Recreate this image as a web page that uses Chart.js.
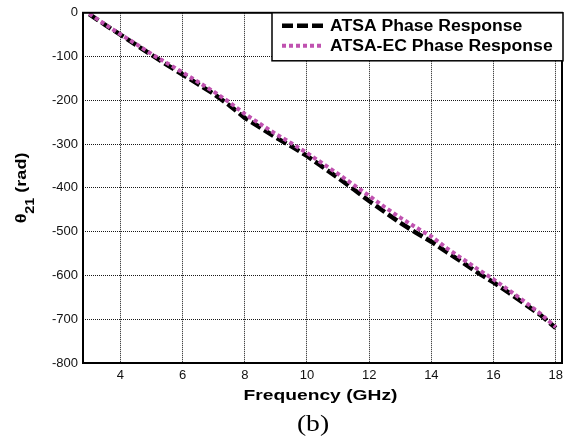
<!DOCTYPE html>
<html>
<head>
<meta charset="utf-8">
<script src="https://cdn.jsdelivr.net/npm/chart.js@4.4.1/dist/chart.umd.min.js"></script>
<style>
html,body{margin:0;padding:0;background:#fff;}
#wrap{width:570px;height:443px;}
</style>
</head>
<body>
<div id="wrap"><canvas id="c" width="570" height="443"></canvas></div>
<script>
// ---- data ----
const freq   = [3,3.5,4,4.5,5,5.5,6,6.5,7,7.5,8,8.5,9,9.5,10,10.5,11,11.5,12,12.5,13,13.5,14,14.5,15,15.5,16,16.5,17,17.5,18];
const atsa   = [-3,-27,-50,-73,-96,-119,-141,-163,-185,-211,-240,-262,-285,-305,-327,-352,-377,-403,-430,-455,-480,-502,-523,-547,-570,-594,-616,-640,-665,-690,-720];
const atsaEc = [-2,-26,-49,-71,-94,-115,-136,-158,-180,-204,-231,-254,-277,-298,-320,-344,-368,-393,-418,-444,-468,-490,-511,-538,-562,-586,-609,-634,-660,-687,-718];
const xTicks = [4,6,8,10,12,14,16,18];
const yTicks = [0,-100,-200,-300,-400,-500,-600,-700,-800];
const seriesNames = ['ATSA Phase Response','ATSA-EC Phase Response'];
const xTitle = 'Frequency (GHz)';
const panelLabel = '(b)';

const BLACK = '#000000';
const PINK = '#c052b0';

function stretchText(ctx, text, x, y, font, sx, align){
  ctx.save();
  ctx.font = font;
  const w = ctx.measureText(text).width * sx;
  let x0 = x;
  if (align === 'center') x0 = x - w/2;
  else if (align === 'right') x0 = x - w;
  ctx.translate(x0, y);
  ctx.scale(sx, 1);
  ctx.textAlign = 'left';
  ctx.fillText(text, 0, 0);
  ctx.restore();
}

const decor = {
  id: 'decor',
  afterDraw(chart){
    const ctx = chart.ctx, a = chart.chartArea;
    ctx.save();
    // frame
    ctx.strokeStyle = '#000';
    ctx.lineWidth = 2;
    ctx.setLineDash([]);
    ctx.strokeRect(a.left, a.top, a.right - a.left, a.bottom - a.top);

    // legend
    const lx = 272, ly = a.top, lw = a.right + 1 - 272, lh = 48;
    ctx.fillStyle = '#fff';
    ctx.fillRect(lx, ly, lw, lh);
    ctx.lineWidth = 1.5;
    ctx.strokeStyle = '#000';
    ctx.strokeRect(lx, ly, lw, lh);
    const ds = chart.data.datasets;
    const rows = [ly + 13, ly + 33];
    ds.forEach((d, i) => {
      ctx.save();
      ctx.strokeStyle = d.borderColor;
      ctx.lineWidth = d.borderWidth;
      ctx.lineCap = 'butt';
      ctx.setLineDash(d.borderDash);
      ctx.beginPath();
      ctx.moveTo(282, rows[i]);
      ctx.lineTo(324, rows[i]);
      ctx.stroke();
      ctx.restore();
      ctx.fillStyle = '#000';
      ctx.textBaseline = 'middle';
      stretchText(ctx, d.label, 330, rows[i] + 1, 'bold 16px "Liberation Sans", Arial, sans-serif', 1.1, 'left');
    });

    // x title
    ctx.fillStyle = '#000';
    ctx.textBaseline = 'middle';
    stretchText(ctx, xTitle, (a.left + a.right) / 2 - 2, 396, 'bold 15.5px "Liberation Sans", Arial, sans-serif', 1.24, 'center');
    // panel label
    stretchText(ctx, panelLabel, 313, 425, '23px "Liberation Serif", "Times New Roman", serif', 1.2, 'center');

    // y title: theta_21 (rad)
    ctx.save();
    ctx.translate(22, 188);
    ctx.rotate(-Math.PI / 2);
    const sx = 1.2;
    const mainFont = 'bold 15px "Liberation Sans", Arial, sans-serif';
    const subFont = 'bold 12px "Liberation Sans", Arial, sans-serif';
    ctx.font = mainFont;
    const wT = ctx.measureText('\u03B8').width;
    const wR = ctx.measureText(' (rad)').width;
    ctx.font = subFont;
    const wS = ctx.measureText('21').width;
    const W = (wT + wS + wR) * sx;
    ctx.scale(sx, 1);
    let cx = -W / 2 / sx;
    ctx.textBaseline = 'middle';
    ctx.textAlign = 'left';
    ctx.font = mainFont;
    ctx.fillText('\u03B8', cx, 0);
    cx += wT;
    ctx.font = subFont;
    ctx.fillText('21', cx, 9);
    cx += wS;
    ctx.font = mainFont;
    ctx.fillText(' (rad)', cx, 0);
    ctx.restore();

    ctx.restore();
  }
};

const tickFont = {family: '"Liberation Sans", Arial, sans-serif', size: 13};

new Chart(document.getElementById('c'), {
  type: 'line',
  data: {
    datasets: [
      {
        label: seriesNames[0],
        data: freq.map((f, i) => ({x: f, y: atsa[i]})),
        borderColor: BLACK,
        borderWidth: 4.5,
        borderDash: [11, 4],
        borderCapStyle: 'butt',
        pointRadius: 0,
        tension: 0,
        fill: false,
        order: 1
      },
      {
        label: seriesNames[1],
        data: freq.map((f, i) => ({x: f, y: atsaEc[i]})),
        borderColor: PINK,
        borderWidth: 4,
        borderDash: [4, 3],
        borderCapStyle: 'butt',
        pointRadius: 0,
        tension: 0,
        fill: false,
        order: 0
      }
    ]
  },
  options: {
    responsive: false,
    animation: false,
    devicePixelRatio: 1,
    layout: {padding: {top: 10, right: 8, left: 0, bottom: 0}},
    plugins: {legend: {display: false}, tooltip: {enabled: false}},
    scales: {
      x: {
        type: 'linear',
        min: 2.8,
        max: 18.2,
        afterBuildTicks: s => { s.ticks = xTicks.map(v => ({value: v})); },
        afterFit: s => { s.height = 80; },
        ticks: {color: '#111', font: tickFont, padding: 5, maxRotation: 0, callback: v => String(v)},
        grid: {color: 'rgba(0,0,0,0.9)', lineWidth: 1, drawTicks: false},
        border: {display: false, dash: [1, 1]}
      },
      y: {
        type: 'linear',
        min: -800,
        max: 0,
        afterBuildTicks: s => { s.ticks = yTicks.map(v => ({value: v})); },
        afterFit: s => { s.width = 83; },
        ticks: {color: '#111', font: tickFont, padding: 5, callback: v => String(v)},
        grid: {color: 'rgba(0,0,0,0.9)', lineWidth: 1, drawTicks: false},
        border: {display: false, dash: [1, 1]}
      }
    }
  },
  plugins: [decor]
});
</script>
</body>
</html>
